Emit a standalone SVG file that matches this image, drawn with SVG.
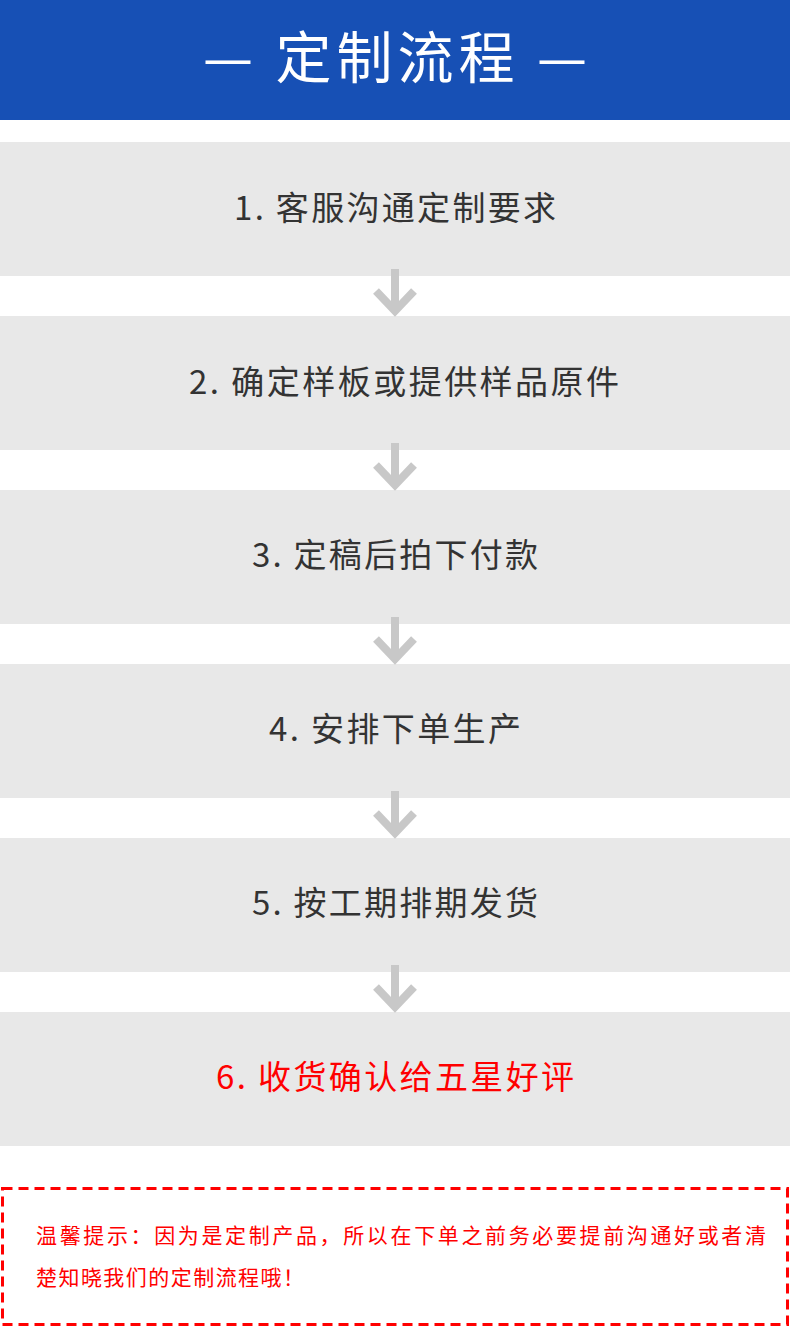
<svg xmlns="http://www.w3.org/2000/svg" width="790" height="1327" viewBox="0 0 790 1327">
<style>
.box{fill:#e8e8e8}
.t{font-family:"Noto Sans CJK SC","Noto Sans",sans-serif;font-size:33px;fill:#333;text-anchor:middle}
.arr{fill:none;stroke:#c8c8c8;stroke-width:8}
.n{font-family:"Noto Sans CJK SC",sans-serif;font-size:21px;fill:#f00}
</style>
<rect width="790" height="1327" fill="#fff"/>
<g id="header"><rect width="790" height="120" fill="#1750b5"/>
<text x="395" y="78" font-family="Noto Sans CJK SC,sans-serif" font-size="56" fill="#fff" text-anchor="middle" textLength="384">— 定制流程 —</text></g>
<g id="s1"><rect class="box" x="0" y="142" width="790" height="134"/><text class="t" x="395" y="220" textLength="322">1. 客服沟通定制要求</text></g>
<g id="s2"><rect class="box" x="0" y="316" width="790" height="134"/><text class="t" x="404" y="394" textLength="430">2. 确定样板或提供样品原件</text></g>
<g id="s3"><rect class="box" x="0" y="490" width="790" height="134"/><text class="t" x="395" y="567" textLength="286">3. 定稿后拍下付款</text></g>
<g id="s4"><rect class="box" x="0" y="664" width="790" height="134"/><text class="t" x="395" y="741" textLength="252">4. 安排下单生产</text></g>
<g id="s5"><rect class="box" x="0" y="838" width="790" height="134"/><text class="t" x="395" y="915" textLength="286">5. 按工期排期发货</text></g>
<g id="s6"><rect class="box" x="0" y="1012" width="790" height="134"/><text class="t" x="395" y="1089" style="fill:#f00" textLength="358">6. 收货确认给五星好评</text></g>
<g id="connectors">
<path class="arr" d="M395 269V311M376 291L395 311L414 291"/>
<path class="arr" d="M395 443V485M376 465L395 485L414 465"/>
<path class="arr" d="M395 617V659M376 639L395 659L414 639"/>
<path class="arr" d="M395 791V833M376 813L395 833L414 813"/>
<path class="arr" d="M395 965V1007M376 987L395 1007L414 987"/>
</g>
<g id="note">
<rect x="2.5" y="1188.5" width="785" height="136" fill="none" stroke="#f00" stroke-width="3" stroke-dasharray="10,6"/>
<text class="n" x="36" y="1243" textLength="730">温馨提示：因为是定制产品，所以在下单之前务必要提前沟通好或者清</text>
<text class="n" x="36" y="1285" textLength="268">楚知晓我们的定制流程哦！</text>
</g>
</svg>
